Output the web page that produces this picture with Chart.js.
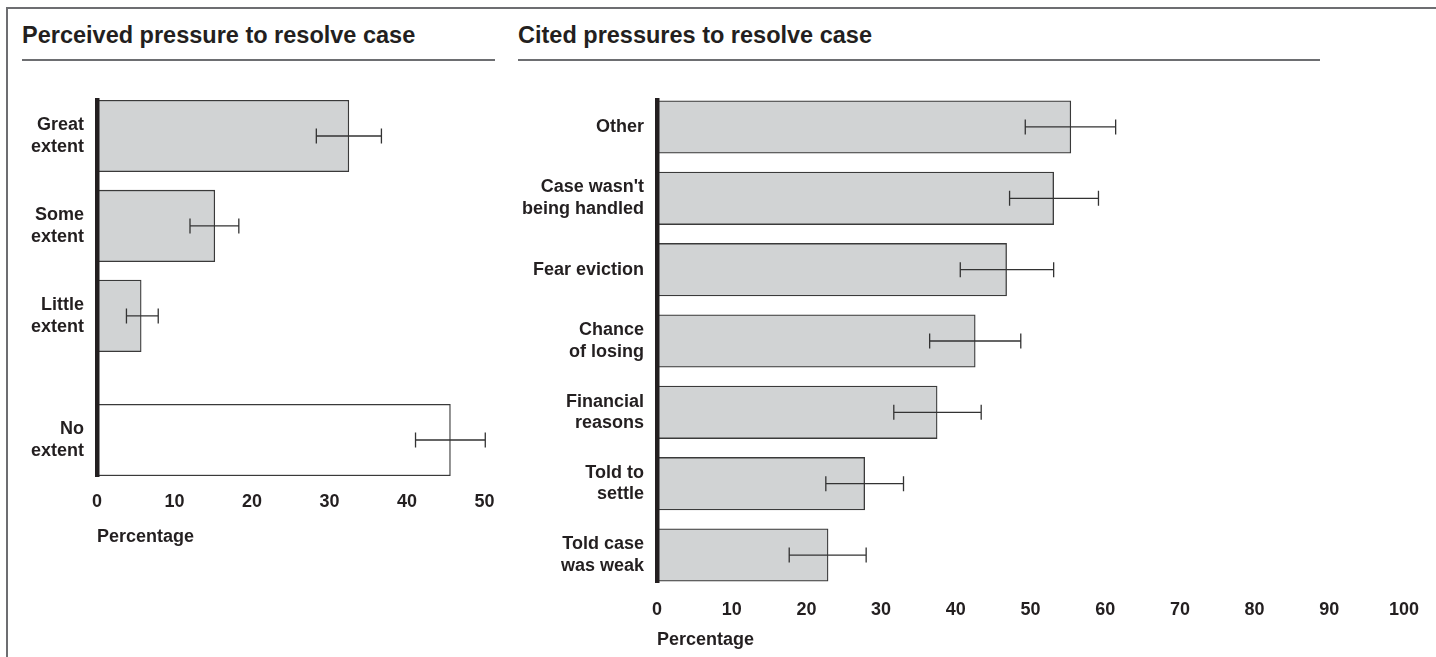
<!DOCTYPE html>
<html>
<head>
<meta charset="utf-8">
<script src="https://cdn.jsdelivr.net/npm/chart.js@4.4.1/dist/chart.umd.min.js"></script>
<style>
  html, body { margin: 0; padding: 0; background: #fff; }
  body { width: 1436px; height: 657px; position: relative; overflow: hidden;
         font-family: 'Liberation Sans', Arial, Helvetica, sans-serif; color: #231f20; }
  .frame { position: absolute; left: 6px; top: 7px; right: 0; bottom: 0;
           border-top: 2px solid #6d6e71; border-left: 2px solid #6d6e71; }
  .title { position: absolute; top: 24px; font-size: 23.5px; font-weight: bold;
           line-height: 23.5px; white-space: nowrap; }
  .rule { position: absolute; top: 59px; height: 2px; background: #6d6e71; }
  canvas { position: absolute; top: 0; }
</style>
</head>
<body>
<div class="frame"></div>
<div class="title" style="left:22px">Perceived pressure to resolve case</div>
<div class="rule" style="left:22px;width:473px"></div>
<div class="title" style="left:518px">Cited pressures to resolve case</div>
<div class="rule" style="left:518px;width:802px"></div>
<canvas id="leftChart" width="510" height="560" style="left:0"></canvas>
<canvas id="rightChart" width="936" height="657" style="left:500px"></canvas>
<script>
// left panel: perceived pressure
var leftLabels = [['Great', 'extent'], ['Some', 'extent'], ['Little', 'extent'], ['No', 'extent']];
var leftRows = [0, 1, 2, 3.38];   // "No extent" sits a bit further down
var leftValues = [32.5, 15.2, 5.7, 45.6];
var leftLow = [28.3, 12.0, 3.8, 41.1];
var leftHigh = [36.7, 18.3, 7.9, 50.1];
var leftTicks = [0, 10, 20, 30, 40, 50];

// right panel: cited pressures
var rightLabels = [['Other'], ["Case wasn't", 'being handled'], ['Fear eviction'], ['Chance', 'of losing'],
                   ['Financial', 'reasons'], ['Told to', 'settle'], ['Told case', 'was weak']];
var rightRows = [0, 1, 2, 3, 4, 5, 6];
var rightValues = [55.4, 53.1, 46.8, 42.6, 37.5, 27.8, 22.9];
var rightLow = [49.3, 47.2, 40.6, 36.5, 31.7, 22.6, 17.7];
var rightHigh = [61.4, 59.1, 53.1, 48.7, 43.4, 33.0, 28.0];
var rightTicks = [0, 10, 20, 30, 40, 50, 60, 70, 80, 90, 100];

var ink = '#231f20';
var font = { family: "'Liberation Sans', Arial, Helvetica, sans-serif", size: 18, weight: 'bold', lineHeight: 1.2 };

// draws the whiskers from the low/high arrays
var errorBars = {
  id: 'errorBars',
  afterDatasetsDraw: function (chart, args, opts) {
    var ctx = chart.ctx, x = chart.scales.x, y = chart.scales.y;
    ctx.save();
    ctx.strokeStyle = '#333';
    ctx.lineWidth = 1.3;
    opts.low.forEach(function (lo, i) {
      var py = y.getPixelForValue(opts.rows[i]);
      var x1 = x.getPixelForValue(lo), x2 = x.getPixelForValue(opts.high[i]);
      ctx.beginPath();
      ctx.moveTo(x1, py); ctx.lineTo(x2, py);
      ctx.moveTo(x1, py - 7.5); ctx.lineTo(x1, py + 7.5);
      ctx.moveTo(x2, py - 7.5); ctx.lineTo(x2, py + 7.5);
      ctx.stroke();
    });
    ctx.restore();
  }
};

function makeChart(id, p) {
  return new Chart(document.getElementById(id), {
    type: 'bar',
    data: {
      datasets: [{
        data: p.values.map(function (v, i) { return { x: v, y: p.rows[i] }; }),
        backgroundColor: p.colors,
        borderColor: '#3a3a3a',
        borderWidth: 1.3,
        barThickness: p.thick
      }]
    },
    options: {
      indexAxis: 'y',
      responsive: false,
      animation: false,
      layout: { padding: { top: 100, right: p.padRight, left: 0, bottom: 0 } },
      plugins: {
        legend: { display: false },
        tooltip: { enabled: false },
        errorBars: { low: p.low, high: p.high, rows: p.rows }
      },
      scales: {
        x: {
          type: 'linear', min: 0, max: p.max,
          afterBuildTicks: function (s) { s.ticks = p.ticks.map(function (v) { return { value: v }; }); },
          afterFit: function (s) { s.height = p.xHeight; },
          grid: { display: false, drawTicks: false },
          border: { display: false },
          ticks: { color: ink, font: font, padding: p.tickPad, maxRotation: 0, autoSkip: false },
          title: { display: true, text: 'Percentage', align: 'start', color: ink, font: font,
                   padding: { top: 0, bottom: p.titlePad } }
        },
        y: {
          type: 'linear', reverse: true, offset: false, min: p.yMin, max: p.yMax,
          afterBuildTicks: function (s) { s.ticks = p.rows.map(function (v) { return { value: v }; }); },
          afterFit: function (s) { s.width = p.yWidth; },
          grid: { display: false, drawTicks: false, offset: false },
          border: { display: true, width: 4.5, color: ink, z: 1 },
          ticks: { color: ink, font: font, padding: 13, autoSkip: false,
                   callback: function (v, i) { return p.labels[i]; } }
        }
      }
    },
    plugins: [errorBars]
  });
}

makeChart('leftChart', {
  labels: leftLabels, rows: leftRows, values: leftValues, low: leftLow, high: leftHigh, ticks: leftTicks,
  colors: ['#d1d3d4', '#d1d3d4', '#d1d3d4', '#ffffff'],
  thick: 71.5, max: 50, yMin: -0.4, yMax: 3.78, yWidth: 97, padRight: 25.5,
  xHeight: 84, tickPad: 15, titlePad: 12
});

makeChart('rightChart', {
  labels: rightLabels, rows: rightRows, values: rightValues, low: rightLow, high: rightHigh, ticks: rightTicks,
  colors: '#d1d3d4',
  thick: 52.5, max: 100, yMin: -0.378, yMax: 6.378, yWidth: 157, padRight: 31,
  xHeight: 75, tickPad: 17, titlePad: 6
});
</script>
</body>
</html>
